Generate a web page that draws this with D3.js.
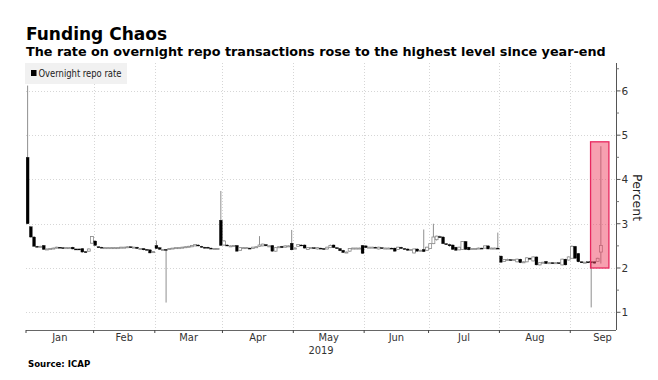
<!DOCTYPE html>
<html><head><meta charset="utf-8">
<script src="https://cdn.jsdelivr.net/npm/d3@7"></script>
<style>body{margin:0;background:#fff} svg{display:block}</style>
</head><body>
<svg id="chart" width="658" height="380"></svg>
<script>
// ---------------- data ----------------
const titleText = "Funding Chaos";
const subtitleText = "The rate on overnight repo transactions rose to the highest level since year-end";
const sourceText = "Source: ICAP";
const seriesName = "Overnight repo rate";
const yAxisTitle = "Percent";
const yearLabel = "2019";
const yTickValues = [1, 2, 3, 4, 5, 6];
const yMinorTicks = [1.5, 2.5, 3.5, 4.5, 5.5, 6.5];
const monthLabels = ["Jan", "Feb", "Mar", "Apr", "May", "Jun", "Jul", "Aug", "Sep"];
const holidays = ["2019-01-01", "2019-01-21", "2019-02-18", "2019-05-27", "2019-07-04", "2019-09-02"];

// daily [open, high, low, close], one row per US business day
const jan = [
 [4.50,6.12,2.99,3.00],[2.93,2.95,2.68,2.70],[2.70,2.72,2.48,2.49],[2.49,2.50,2.47,2.48],
 [2.48,2.50,2.47,2.49],[2.51,2.52,2.41,2.42],[2.43,2.44,2.42,2.43],[2.44,2.45,2.43,2.44],
 [2.44,2.46,2.43,2.45],[2.45,2.48,2.44,2.47],[2.47,2.47,2.45,2.46],[2.46,2.47,2.45,2.45],
 [2.45,2.47,2.44,2.46],[2.46,2.47,2.45,2.46],[2.47,2.48,2.42,2.43],[2.43,2.44,2.42,2.42],
 [2.43,2.44,2.41,2.42],[2.44,2.45,2.35,2.36],[2.37,2.38,2.35,2.36],[2.38,2.44,2.37,2.43],
 [2.56,2.72,2.55,2.71]
];
const feb = [
 [2.61,2.62,2.50,2.51],[2.48,2.49,2.46,2.47],[2.47,2.48,2.45,2.46],[2.46,2.47,2.45,2.46],
 [2.46,2.47,2.45,2.46],[2.46,2.47,2.45,2.46],[2.46,2.47,2.45,2.46],[2.46,2.47,2.45,2.46],
 [2.46,2.48,2.45,2.47],[2.47,2.48,2.46,2.47],[2.46,2.49,2.45,2.48],[2.48,2.49,2.46,2.47],
 [2.47,2.48,2.46,2.47],[2.47,2.48,2.43,2.44],[2.44,2.45,2.43,2.44],[2.44,2.45,2.40,2.41],
 [2.42,2.43,2.40,2.41],[2.41,2.42,2.33,2.34],[2.36,2.38,2.35,2.37]
];
const mar = [
 [2.51,2.62,2.43,2.44],[2.46,2.47,2.41,2.42],[2.42,2.43,2.41,2.42],[2.42,2.43,1.22,2.41],
 [2.42,2.44,2.41,2.44],[2.44,2.45,2.43,2.45],[2.45,2.46,2.44,2.46],[2.46,2.47,2.45,2.46],
 [2.46,2.48,2.45,2.47],[2.47,2.49,2.46,2.48],[2.48,2.50,2.47,2.49],[2.48,2.52,2.47,2.51],
 [2.50,2.54,2.49,2.53],[2.52,2.53,2.49,2.50],[2.49,2.50,2.46,2.47],[2.47,2.48,2.44,2.45],
 [2.47,2.48,2.44,2.45],[2.45,2.46,2.43,2.44],[2.44,2.45,2.43,2.44],[2.44,2.45,2.43,2.44],
 [3.08,3.74,2.50,2.51]
];
const apr = [
 [2.52,2.63,2.50,2.61],[2.52,2.53,2.49,2.50],[2.50,2.51,2.49,2.50],[2.50,2.52,2.49,2.51],
 [2.51,2.52,2.37,2.38],[2.40,2.47,2.39,2.46],[2.46,2.47,2.45,2.46],[2.46,2.47,2.45,2.46],
 [2.45,2.46,2.43,2.44],[2.44,2.48,2.43,2.47],[2.47,2.49,2.46,2.48],[2.49,2.72,2.48,2.52],
 [2.50,2.55,2.49,2.54],[2.53,2.54,2.49,2.50],[2.50,2.51,2.49,2.50],[2.51,2.52,2.37,2.38],
 [2.38,2.47,2.37,2.46],[2.47,2.49,2.46,2.48],[2.49,2.50,2.45,2.46],[2.47,2.51,2.46,2.50],
 [2.50,2.51,2.49,2.50],[2.56,2.86,2.40,2.41]
];
const may = [
 [2.44,2.47,2.43,2.45],[2.49,2.54,2.48,2.53],[2.52,2.53,2.50,2.51],[2.52,2.53,2.44,2.45],
 [2.42,2.47,2.41,2.46],[2.46,2.47,2.45,2.46],[2.46,2.47,2.44,2.45],[2.43,2.47,2.42,2.46],
 [2.45,2.46,2.43,2.44],[2.44,2.45,2.42,2.43],[2.43,2.48,2.42,2.47],[2.46,2.53,2.45,2.51],
 [2.52,2.53,2.45,2.46],[2.46,2.47,2.43,2.44],[2.44,2.45,2.38,2.39],[2.40,2.41,2.34,2.35],
 [2.36,2.37,2.35,2.36],[2.38,2.45,2.37,2.44],[2.44,2.46,2.43,2.45],[2.45,2.46,2.44,2.45],
 [2.45,2.46,2.44,2.45],[2.51,2.52,2.32,2.33]
];
const jun = [
 [2.50,2.51,2.45,2.46],[2.46,2.48,2.45,2.47],[2.47,2.48,2.46,2.47],[2.47,2.48,2.45,2.46],
 [2.43,2.48,2.42,2.47],[2.46,2.47,2.44,2.45],[2.45,2.46,2.44,2.45],[2.45,2.46,2.44,2.45],
 [2.45,2.46,2.43,2.44],[2.45,2.46,2.37,2.38],[2.42,2.48,2.41,2.47],[2.47,2.48,2.43,2.44],
 [2.44,2.45,2.42,2.43],[2.43,2.44,2.39,2.40],[2.41,2.43,2.40,2.42],[2.34,2.44,2.33,2.43],
 [2.43,2.44,2.37,2.38],[2.39,2.41,2.38,2.40],[2.42,2.87,2.36,2.37],[2.40,2.48,2.39,2.47]
];
const jul = [
 [2.44,2.56,2.43,2.55],[2.55,3.00,2.54,2.70],[2.64,2.73,2.62,2.72],[2.71,2.73,2.68,2.70],
 [2.70,2.72,2.54,2.55],[2.55,2.56,2.52,2.53],[2.53,2.55,2.48,2.50],[2.52,2.53,2.41,2.42],
 [2.47,2.48,2.39,2.40],[2.41,2.48,2.40,2.47],[2.42,2.61,2.41,2.60],[2.60,2.61,2.41,2.42],
 [2.47,2.48,2.40,2.41],[2.44,2.45,2.43,2.44],[2.44,2.45,2.43,2.44],[2.44,2.46,2.43,2.45],
 [2.45,2.46,2.43,2.44],[2.45,2.51,2.44,2.50],[2.50,2.51,2.42,2.43],[2.44,2.46,2.43,2.45],
 [2.45,2.46,2.44,2.45],[2.45,2.80,2.43,2.44]
];
const aug = [
 [2.27,2.28,2.12,2.13],[2.15,2.20,2.14,2.19],[2.19,2.21,2.17,2.19],[2.19,2.20,2.17,2.18],
 [2.18,2.20,2.17,2.19],[2.14,2.21,2.13,2.20],[2.20,2.21,2.11,2.12],[2.13,2.15,2.12,2.14],
 [2.14,2.24,2.13,2.23],[2.22,2.24,2.20,2.21],[2.16,2.26,2.15,2.25],[2.25,2.26,2.06,2.07],
 [2.07,2.13,2.06,2.12],[2.12,2.14,2.11,2.13],[2.15,2.16,2.09,2.10],[2.11,2.13,2.10,2.12],
 [2.12,2.13,2.10,2.11],[2.11,2.13,2.10,2.12],[2.12,2.13,2.10,2.11],[2.07,2.21,2.06,2.20],
 [2.20,2.21,2.06,2.07],[2.18,2.26,2.17,2.25]
];
const sep = [
 [2.22,2.51,2.21,2.49],[2.49,2.50,2.21,2.22],[2.33,2.34,2.13,2.14],[2.14,2.15,2.12,2.13],
 [2.13,2.14,2.12,2.13],[2.14,2.15,2.11,2.12],[2.14,2.15,1.11,2.12],[2.14,2.15,2.10,2.11],
 [2.15,2.23,2.14,2.22],[2.36,4.75,2.10,2.51]
];
const highlight = {from: "2019-09-11", to: "2019-09-18", low: 2.0, high: 4.85};

// ---------------- layout ----------------
const W = 658, H = 380;
const plot = {left: 26, right: 616, top: 63, bottom: 330};
const yDomain = [0.6, 6.63];
const xDomainEnd = 183.2;      // business-day units shown on axis

// business-day calendar
const fmt = d3.utcFormat("%Y-%m-%d");
const hol = new Set(holidays);
const bdays = d3.utcDays(new Date(Date.UTC(2019,0,1)), new Date(Date.UTC(2019,9,1)))
  .filter(d => d.getUTCDay() !== 0 && d.getUTCDay() !== 6 && !hol.has(fmt(d)));
const idxOf = new Map(bdays.map((d, i) => [fmt(d), i]));

const rows = [].concat(jan, feb, mar, apr, may, jun, jul, aug, sep);
const data = rows.map((r, i) => ({i, date: bdays[i], open: r[0], high: r[1], low: r[2], close: r[3]}));

const svg = d3.select("#chart");
svg.append("rect").attr("width", W).attr("height", H).attr("fill", "#fff");

const x = d3.scaleLinear().domain([0, xDomainEnd]).range([plot.left, plot.right]);
const y = d3.scaleLinear().domain(yDomain).range([plot.bottom, plot.top]);

// month starts
const monthStart = d3.range(9).map(m => bdays.findIndex(d => d.getUTCMonth() === m));
const monthEnd = monthStart.map((s, k) => k < 8 ? monthStart[k + 1] : bdays.length);

// titles
function fitWidth(sel, w) {
  const len = sel.node().getComputedTextLength();
  const fs = parseFloat(sel.attr("font-size"));
  sel.attr("font-size", (fs * w / len).toFixed(2));
}
const t1 = svg.append("text").attr("x", 26).attr("y", 39.5)
  .attr("font-family", "DejaVu Sans, Verdana, sans-serif").attr("font-weight", "bold")
  .attr("font-size", 17).attr("fill", "#000").text(titleText);
fitWidth(t1, 141);
const t2 = svg.append("text").attr("x", 26).attr("y", 56)
  .attr("font-family", "DejaVu Sans, Verdana, sans-serif").attr("font-weight", "bold")
  .attr("font-size", 13).attr("fill", "#000").text(subtitleText);
fitWidth(t2, 580);

// gridlines
const grid = svg.append("g").attr("stroke", "#d6d6d6").attr("stroke-width", 1)
  .attr("stroke-dasharray", "1,2").attr("shape-rendering", "crispEdges");
grid.selectAll("line.h").data(yTickValues).join("line").attr("class", "h")
  .attr("x1", plot.left).attr("x2", plot.right)
  .attr("y1", d => Math.round(y(d)) + 0.5).attr("y2", d => Math.round(y(d)) + 0.5);
grid.selectAll("line.v").data(monthStart.slice(1)).join("line").attr("class", "v")
  .attr("y1", plot.top).attr("y2", plot.bottom)
  .attr("x1", d => Math.round(x(d)) + 0.5).attr("x2", d => Math.round(x(d)) + 0.5);

// legend
const lg = svg.append("g");
lg.append("rect").attr("x", 25).attr("y", 63).attr("width", 102).attr("height", 21).attr("fill", "#f1f1f1");
lg.append("rect").attr("x", 31).attr("y", 70).attr("width", 5.5).attr("height", 6).attr("fill", "#000");
const lt = lg.append("text").attr("x", 38.5).attr("y", 77.3)
  .attr("font-family", "DejaVu Sans Condensed, Liberation Sans Narrow, DejaVu Sans, sans-serif")
  .attr("font-stretch", "condensed").attr("font-size", 10).attr("fill", "#222").text(seriesName);
lt.attr("textLength", 83).attr("lengthAdjust", "spacingAndGlyphs");

// candles
svg.append("clipPath").attr("id", "clip").append("rect")
  .attr("x", plot.left).attr("y", plot.top)
  .attr("width", plot.right - plot.left).attr("height", plot.bottom - plot.top);
const cg = svg.append("g").attr("clip-path", "url(#clip)");
const bw = 2.9;
const c = cg.selectAll("g.c").data(data).join("g").attr("class", "c");
c.append("line")
  .attr("x1", d => x(d.i + 0.5)).attr("x2", d => x(d.i + 0.5))
  .attr("y1", d => y(d.high)).attr("y2", d => y(d.low))
  .attr("stroke", "#8f8f8f").attr("stroke-width", 1);
c.append("rect")
  .attr("x", d => x(d.i + 0.5) - bw / 2)
  .attr("width", bw)
  .attr("y", d => y(Math.max(d.open, d.close)))
  .attr("height", d => Math.max(1, Math.abs(y(d.open) - y(d.close))))
  .attr("fill", d => d.close < d.open ? "#000" : "#fff")
  .attr("stroke", d => d.close < d.open ? "#000" : "#8a8a8a")
  .attr("stroke-width", d => d.close < d.open ? 0.3 : 0.8);

// highlight box
const hx0 = x(idxOf.get(highlight.from) + 0.3), hx1 = x(idxOf.get(highlight.to) + 1);
svg.append("rect")
  .attr("x", hx0).attr("width", hx1 - hx0)
  .attr("y", y(highlight.high)).attr("height", y(highlight.low) - y(highlight.high))
  .attr("fill", "rgb(239,65,97)").attr("fill-opacity", 0.5)
  .attr("stroke", "#e8285f").attr("stroke-width", 1.3);

// right axis
const ax = svg.append("g").attr("transform", `translate(${plot.right},0)`);
ax.append("line").attr("x1", 0.5).attr("x2", 0.5).attr("y1", plot.top).attr("y2", plot.bottom)
  .attr("stroke", "#555");
ax.selectAll("line.mj").data(yTickValues).join("line").attr("class", "mj")
  .attr("x1", 0.5).attr("x2", 4.5).attr("y1", d => y(d)).attr("y2", d => y(d))
  .attr("stroke", "#555");
ax.selectAll("line.mn").data(yMinorTicks).join("line").attr("class", "mn")
  .attr("x1", 0.5).attr("x2", 3).attr("y1", d => y(d)).attr("y2", d => y(d))
  .attr("stroke", "#777");
ax.selectAll("text").data(yTickValues).join("text")
  .attr("x", 5.5).attr("y", d => y(d)).attr("dy", "0.36em")
  .attr("font-family", "DejaVu Sans, sans-serif").attr("font-size", 10.5).attr("fill", "#333")
  .text(d => d);
svg.append("text").attr("transform", `translate(633,${(y(4) + y(3)) / 2 - 4}) rotate(90)`)
  .attr("text-anchor", "middle")
  .attr("font-family", "DejaVu Sans, sans-serif").attr("font-size", 12.5).attr("fill", "#222")
  .text(yAxisTitle);

// bottom axis
const bx = svg.append("g").attr("transform", `translate(0,${plot.bottom})`);
bx.append("line").attr("x1", plot.left).attr("x2", plot.right).attr("y1", 0.5).attr("y2", 0.5)
  .attr("stroke", "#666");
bx.selectAll("line.t").data(monthStart).join("line").attr("class", "t")
  .attr("x1", d => x(d)).attr("x2", d => x(d)).attr("y1", 0).attr("y2", 3)
  .attr("stroke", "#444");
bx.selectAll("text").data(monthLabels).join("text")
  .attr("x", (d, k) => x((monthStart[k] + monthEnd[k]) / 2)).attr("y", 11)
  .attr("text-anchor", "middle")
  .attr("font-family", "DejaVu Sans Condensed, Liberation Sans Narrow, DejaVu Sans, sans-serif")
  .attr("font-stretch", "condensed").attr("font-size", 11).attr("fill", "#333")
  .text(d => d);
svg.append("text").attr("x", (plot.left + plot.right) / 2).attr("y", 354).attr("text-anchor", "middle")
  .attr("font-family", "DejaVu Sans Condensed, Liberation Sans Narrow, DejaVu Sans, sans-serif")
  .attr("font-stretch", "condensed").attr("font-size", 11).attr("fill", "#333").text(yearLabel);

// source
svg.append("text").attr("x", 28).attr("y", 366.5)
  .attr("font-family", "DejaVu Sans, Verdana, sans-serif").attr("font-weight", "bold")
  .attr("font-size", 8.6).attr("fill", "#000").text(sourceText);
</script>
</body></html>
